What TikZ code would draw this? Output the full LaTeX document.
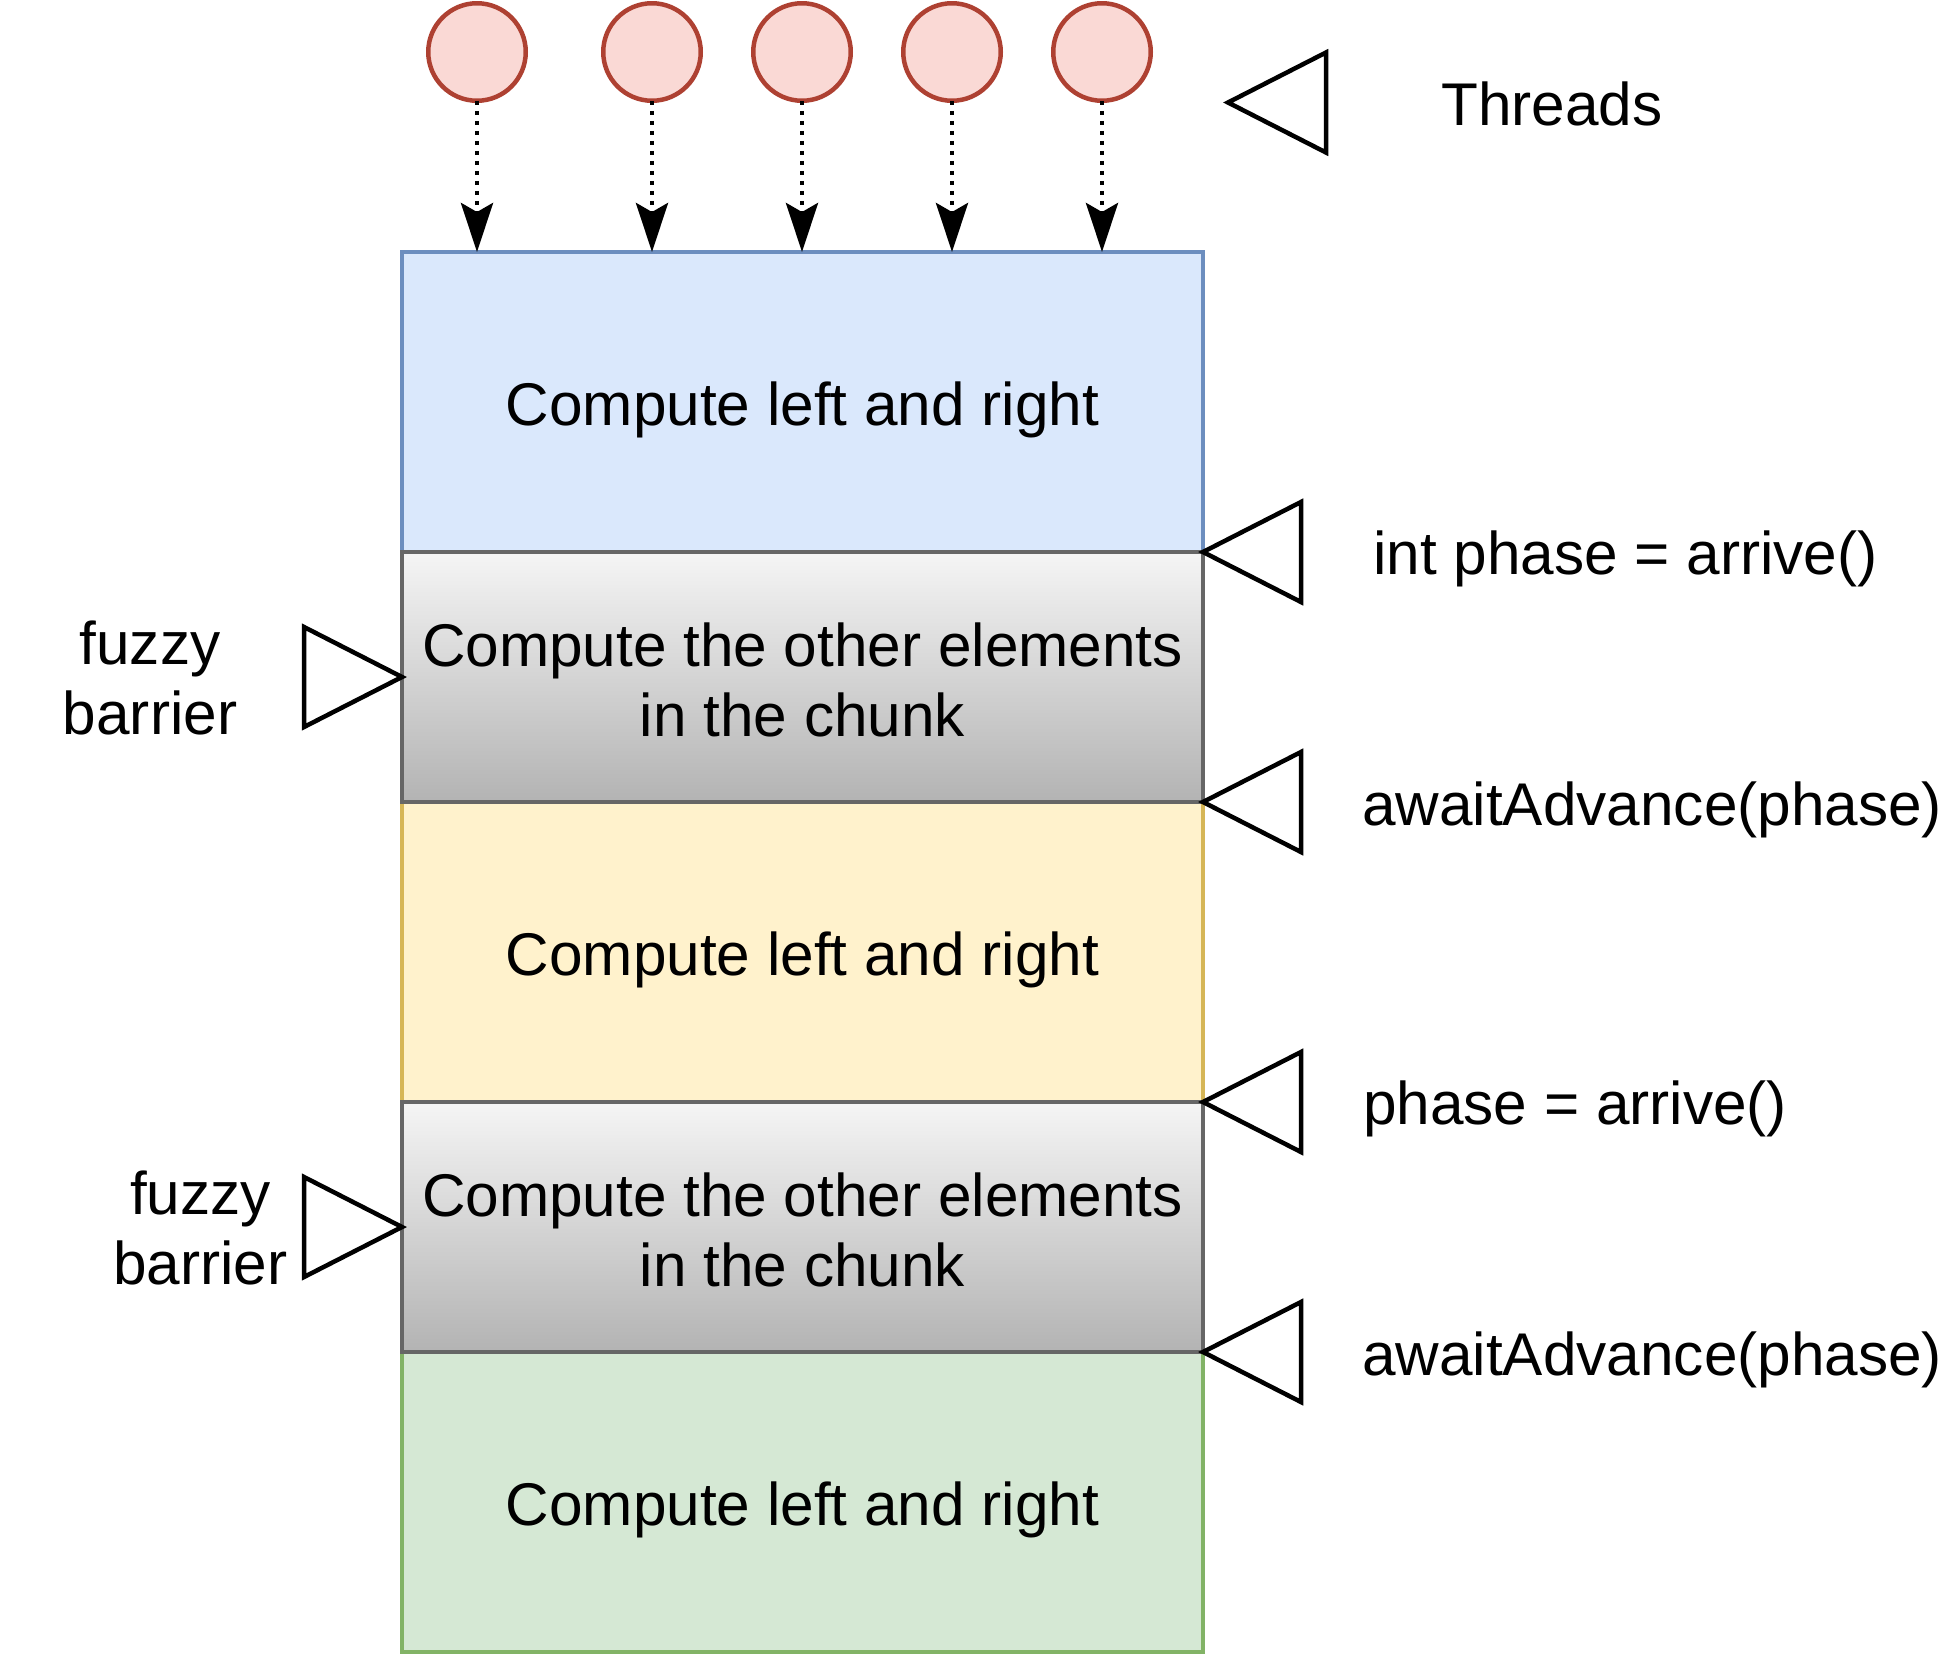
\documentclass[tikz,border=0pt]{standalone}
\usepackage{fontspec}
\setmainfont{Liberation Sans}
\usetikzlibrary{arrows.meta}
\definecolor{blueFill}{HTML}{DAE8FC}
\definecolor{blueLine}{HTML}{6C8EBF}
\definecolor{yelFill}{HTML}{FFF2CC}
\definecolor{yelLine}{HTML}{D6B656}
\definecolor{grnFill}{HTML}{D5E8D4}
\definecolor{grnLine}{HTML}{82B366}
\definecolor{grayTop}{HTML}{F5F5F5}
\definecolor{grayBot}{HTML}{B3B3B3}
\definecolor{grayLine}{HTML}{666666}
\definecolor{thrFill}{HTML}{FAD9D5}
\definecolor{thrLine}{HTML}{AE4132}
\newcommand{\firstln}{\rule{0pt}{50pt}}
\begin{document}
\begin{tikzpicture}[x=1pt,y=-1pt,
  txt/.style={font=\fontsize{60.3}{69.5}\selectfont},
  blk/.style={draw, txt, line width=4.5pt, minimum width=801pt, outer sep=0pt, inner sep=0pt, align=center},
  tallblk/.style={blk, minimum height=300pt, text height=47pt, text depth=1pt},
  graybox/.style={blk, minimum height=250pt, draw=grayLine, top color=grayTop, bottom color=grayBot},
  thread/.style={circle, draw=thrLine, fill=thrFill, line width=4.5pt, minimum size=97.5pt, inner sep=0pt, outer sep=0pt},
  dotarrow/.style={line width=4.5pt, dash pattern=on 4.5pt off 5.5pt, -{Stealth[length=49pt,width=32pt,inset=9pt]}},
  tri/.style={draw, line width=4.5pt, line join=miter},
  lbl/.style={txt, inner sep=0pt, align=center},
  rlbl/.style={txt, inner sep=0pt, anchor=base west}]
\useasboundingbox (0,0) rectangle (1955,1655);

% blocks
\node[tallblk, draw=blueLine, fill=blueFill] (b1) at (802.5,402) {Compute left and right};
\node[tallblk, draw=yelLine, fill=yelFill] (b3) at (802.5,952) {Compute left and right};
\node[tallblk, draw=grnLine, fill=grnFill] (b5) at (802.5,1502) {Compute left and right};
\node[graybox] (b2) at (802.5,677) {\firstln Compute the other elements\\in the chunk};
\node[graybox] (b4) at (802.5,1227) {\firstln Compute the other elements\\in the chunk};

% threads
\foreach \i/\x in {1/477,2/652,3/802,4/952,5/1102}{
  \node[thread] (t\i) at (\x,52) {};
  \draw[dotarrow] (t\i) -- (t\i |- b1.north);
}

% right triangles
\coordinate (thrtip) at (1228,102.5);
\draw[tri] (thrtip) -- ++(98,-50) -- ++(0,100) -- cycle;
\draw[tri] (b1.south east) -- ++(98,-50) -- ++(0,100) -- cycle;
\draw[tri] (b2.south east) -- ++(98,-50) -- ++(0,100) -- cycle;
\draw[tri] (b3.south east) -- ++(98,-50) -- ++(0,100) -- cycle;
\draw[tri] (b4.south east) -- ++(98,-50) -- ++(0,100) -- cycle;

% left triangles
\draw[tri] (b2.west) -- ++(-98,-50) -- ++(0,100) -- cycle;
\draw[tri] (b4.west) -- ++(-98,-50) -- ++(0,100) -- cycle;

% labels
\node[rlbl] (lthreads) at (1441,125) {Threads};
\node[rlbl] (lint) at (1373,574.5) {int phase = arrive()};
\node[rlbl] (law1) at (1362,825) {awaitAdvance(phase)};
\node[rlbl] (lph) at (1363,1124.5) {phase = arrive()};
\node[rlbl] (law2) at (1362,1375) {awaitAdvance(phase)};
\node[lbl] (lfz1) at (150,678) {fuzzy\\barrier};
\node[lbl] (lfz2) at (200.5,1228) {fuzzy\\barrier};
\end{tikzpicture}
\end{document}
